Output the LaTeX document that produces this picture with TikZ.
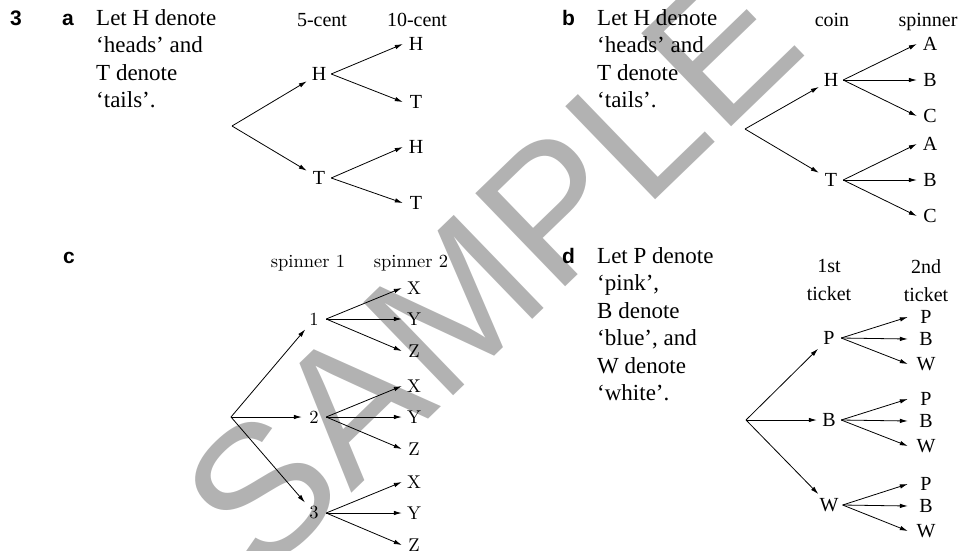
\documentclass[tikz,border=0pt]{standalone}
\usepackage{fontspec}
\setsansfont{Liberation Sans}
\newfontfamily\timesfont{Liberation Serif}
\newfontfamily\lmfont[Extension=.otf]{lmroman10-regular}
\usetikzlibrary{arrows.meta}
\tikzstyle{branch}=[-{Latex[length=8pt,width=4.5pt]}, line width=.8pt]
\tikzstyle{outcome}=[inner sep=4pt, minimum width=24pt, font=\timesfont\fontsize{20}{24}\selectfont]
\tikzstyle{leaf}=[outcome, minimum width=26pt]
\tikzstyle{lmtext}=[font=\lmfont\fontsize{18.5}{22}\selectfont]
\tikzstyle{head}=[inner sep=0pt, font=\timesfont\fontsize{20}{28}\selectfont]
\tikzstyle{part}=[anchor=base west, inner sep=0pt, font=\sffamily\bfseries\fontsize{21}{24}\selectfont]
\tikzstyle{note}=[anchor=north west, align=left, inner sep=0pt, font=\timesfont\fontsize{23}{27.5}\selectfont]
\tikzstyle{stamp}=[rotate=44, inner sep=0pt, text=black!30, font=\sffamily\fontsize{188}{188}\selectfont]

\begin{document}
\begin{tikzpicture}[x=1pt, y=-1pt]
\useasboundingbox (0,0) rectangle (958,550);
\node[stamp] (mark) at (491,269) {SAMPLE};

% question and part labels
\node[part] (q3) at (10,25) {3};
\node[part] (qa) at (62,25) {a};
\node[part] (qb) at (562,25) {b};
\node[part] (qc) at (63,263) {c};
\node[part] (qd) at (562,263) {d};

% part a
\node[note] (ta) at (96,9.3) {Let H denote\\‘heads’ and\\T denote\\‘tails’.};
\node[head, anchor=base] (ha1) at (322,26) {5-cent};
\node[head, anchor=base] (ha2) at (417,26) {10-cent};
\coordinate (aroot) at (232,126);
\node[outcome] (aH) at (319,74) {H};
\node[outcome] (aT) at (319,178) {T};
\foreach \p/\c/\y in {H/H/44, H/T/102, T/H/147, T/T/203}
  \node[leaf] (a\p\c) at (416,\y) {\c};
\foreach \p in {H,T}{
  \draw[branch] (aroot) -- (a\p);
  \foreach \c in {H,T}
    \draw[branch] (a\p.east) -- (a\p\c.west);
}

% part b
\node[note] (tb) at (597,9.3) {Let H denote\\‘heads’ and\\T denote\\‘tails’.};
\node[head, anchor=base] (hb1) at (832,26) {coin};
\node[head, anchor=base] (hb2) at (928,26) {spinner};
\coordinate (broot) at (745,129);
\foreach \p/\y in {H/80, T/180}{
  \node[outcome] (b\p) at (831,\y) {\p};
  \draw[branch] (broot) -- (b\p);
  \foreach \c/\d in {A/-36, B/0, C/36}{
    \node[leaf] (b\p\c) at (930,\y+\d) {\c};
    \draw[branch] (b\p.east) -- (b\p\c.west);
  }
}

% part c
\node[head, lmtext, anchor=base] (hc1) at (308,267) {spinner 1};
\node[head, lmtext, anchor=base] (hc2) at (411,267) {spinner 2};
\coordinate (croot) at (231,417);
\foreach \p/\y in {1/319, 2/417, 3/513}{
  \node[outcome, lmtext] (c\p) at (314,\y) {\p};
  \draw[branch] (croot) -- (c\p);
  \foreach \c/\d in {X/-31, Y/0, Z/32}{
    \node[leaf, lmtext, minimum width=24pt] (c\p\c) at (414,\y+\d) {\c};
    \draw[branch] (c\p.east) -- (c\p\c.west);
  }
}

% part d
\node[note] (td) at (597,247.3) {Let P denote\\‘pink’,\\B denote\\‘blue’, and\\W denote\\‘white’.};
\node[head, anchor=north, align=center] (hd1) at (829,259.5) {1st\\ticket};
\node[head, anchor=north, align=center] (hd2) at (926,259.5) {2nd\\ticket};
\coordinate (droot) at (746,420);
\foreach \p/\y in {P/338, B/420, W/505}{
  \node[outcome] (d\p) at (829,\y) {\p};
  \draw[branch] (droot) -- (d\p);
  \foreach \c/\d in {P/-21, B/1, W/26}{
    \node[leaf, minimum width=36pt] (d\p\c) at (926,\y+\d) {\c};
    \draw[branch] (d\p.east) -- (d\p\c.west);
  }
}
\end{tikzpicture}
\end{document}
